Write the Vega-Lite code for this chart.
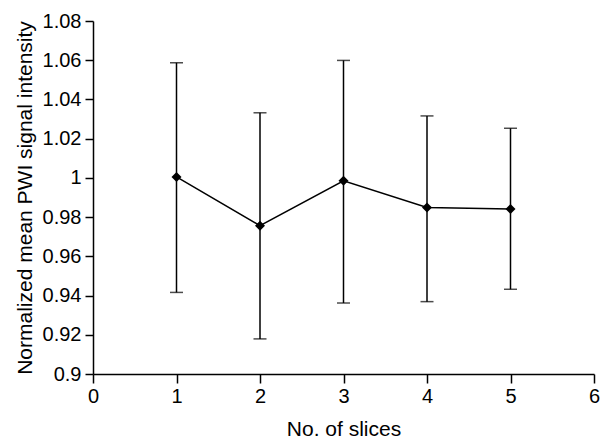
{
  "$schema": "https://vega.github.io/schema/vega-lite/v6.json",
  "autosize": "none",
  "width": 501,
  "height": 353,
  "padding": {"left": 93, "top": 21, "right": 20, "bottom": 67},
  "background": "white",
  "config": {
    "view": {"stroke": null},
    "font": "Liberation Sans",
    "axis": {"grid": false, "domainColor": "black", "tickColor": "black", "labelColor": "black", "titleColor": "black", "labelFont": "Liberation Sans", "titleFont": "Liberation Sans", "labelFontSize": 20, "titleFontSize": 21, "titleFontWeight": "normal", "domainWidth": 1.5, "tickWidth": 1.5, "labelOverlap": false, "labelBound": false, "labelFlush": false}
  },
  "data": {
    "values": [
      {"slices": 1, "mean": 1.0005, "upper": 1.0587, "lower": 0.9416},
      {"slices": 2, "mean": 0.9756, "upper": 1.0332, "lower": 0.9179},
      {"slices": 3, "mean": 0.9985, "upper": 1.0599, "lower": 0.9362},
      {"slices": 4, "mean": 0.9849, "upper": 1.0316, "lower": 0.9369},
      {"slices": 5, "mean": 0.9841, "upper": 1.0253, "lower": 0.9432}
    ]
  },
  "encoding": {
    "x": {"field": "slices", "type": "quantitative", "scale": {"domain": [0, 6], "nice": false}, "axis": {"title": "No. of slices", "values": [0,1,2,3,4,5,6], "format": "d", "tickSize": 9, "labelPadding": 3, "titlePadding": 12}}
  },
  "layer": [
    {
      "mark": {"type": "rule", "color": "black", "strokeWidth": 1.5},
      "encoding": {
        "y": {"field": "lower", "type": "quantitative", "scale": {"domain": [0.9, 1.08], "nice": false, "zero": false}, "axis": {"title": "Normalized mean PWI signal intensity", "values": [0.9,0.92,0.94,0.96,0.98,1,1.02,1.04,1.06,1.08], "format": "~g", "tickSize": 8, "labelPadding": 4, "titlePadding": 7}},
        "y2": {"field": "upper"}
      }
    },
    {
      "mark": {"type": "tick", "color": "black", "size": 13, "thickness": 1.5, "orient": "horizontal"},
      "encoding": {"y": {"field": "upper", "type": "quantitative", "axis": {"title": "Normalized mean PWI signal intensity", "values": [0.9,0.92,0.94,0.96,0.98,1,1.02,1.04,1.06,1.08], "format": "~g", "tickSize": 8, "labelPadding": 4, "titlePadding": 7}}}
    },
    {
      "mark": {"type": "tick", "color": "black", "size": 13, "thickness": 1.5, "orient": "horizontal"},
      "encoding": {"y": {"field": "lower", "type": "quantitative", "axis": {"title": "Normalized mean PWI signal intensity", "values": [0.9,0.92,0.94,0.96,0.98,1,1.02,1.04,1.06,1.08], "format": "~g", "tickSize": 8, "labelPadding": 4, "titlePadding": 7}}}
    },
    {
      "mark": {"type": "line", "color": "black", "strokeWidth": 1.5},
      "encoding": {"y": {"field": "mean", "type": "quantitative", "axis": {"title": "Normalized mean PWI signal intensity", "values": [0.9,0.92,0.94,0.96,0.98,1,1.02,1.04,1.06,1.08], "format": "~g", "tickSize": 8, "labelPadding": 4, "titlePadding": 7}}}
    },
    {
      "mark": {"type": "point", "shape": "diamond", "filled": true, "color": "black", "size": 100, "opacity": 1},
      "encoding": {"y": {"field": "mean", "type": "quantitative", "axis": {"title": "Normalized mean PWI signal intensity", "values": [0.9,0.92,0.94,0.96,0.98,1,1.02,1.04,1.06,1.08], "format": "~g", "tickSize": 8, "labelPadding": 4, "titlePadding": 7}}}
    }
  ]
}
